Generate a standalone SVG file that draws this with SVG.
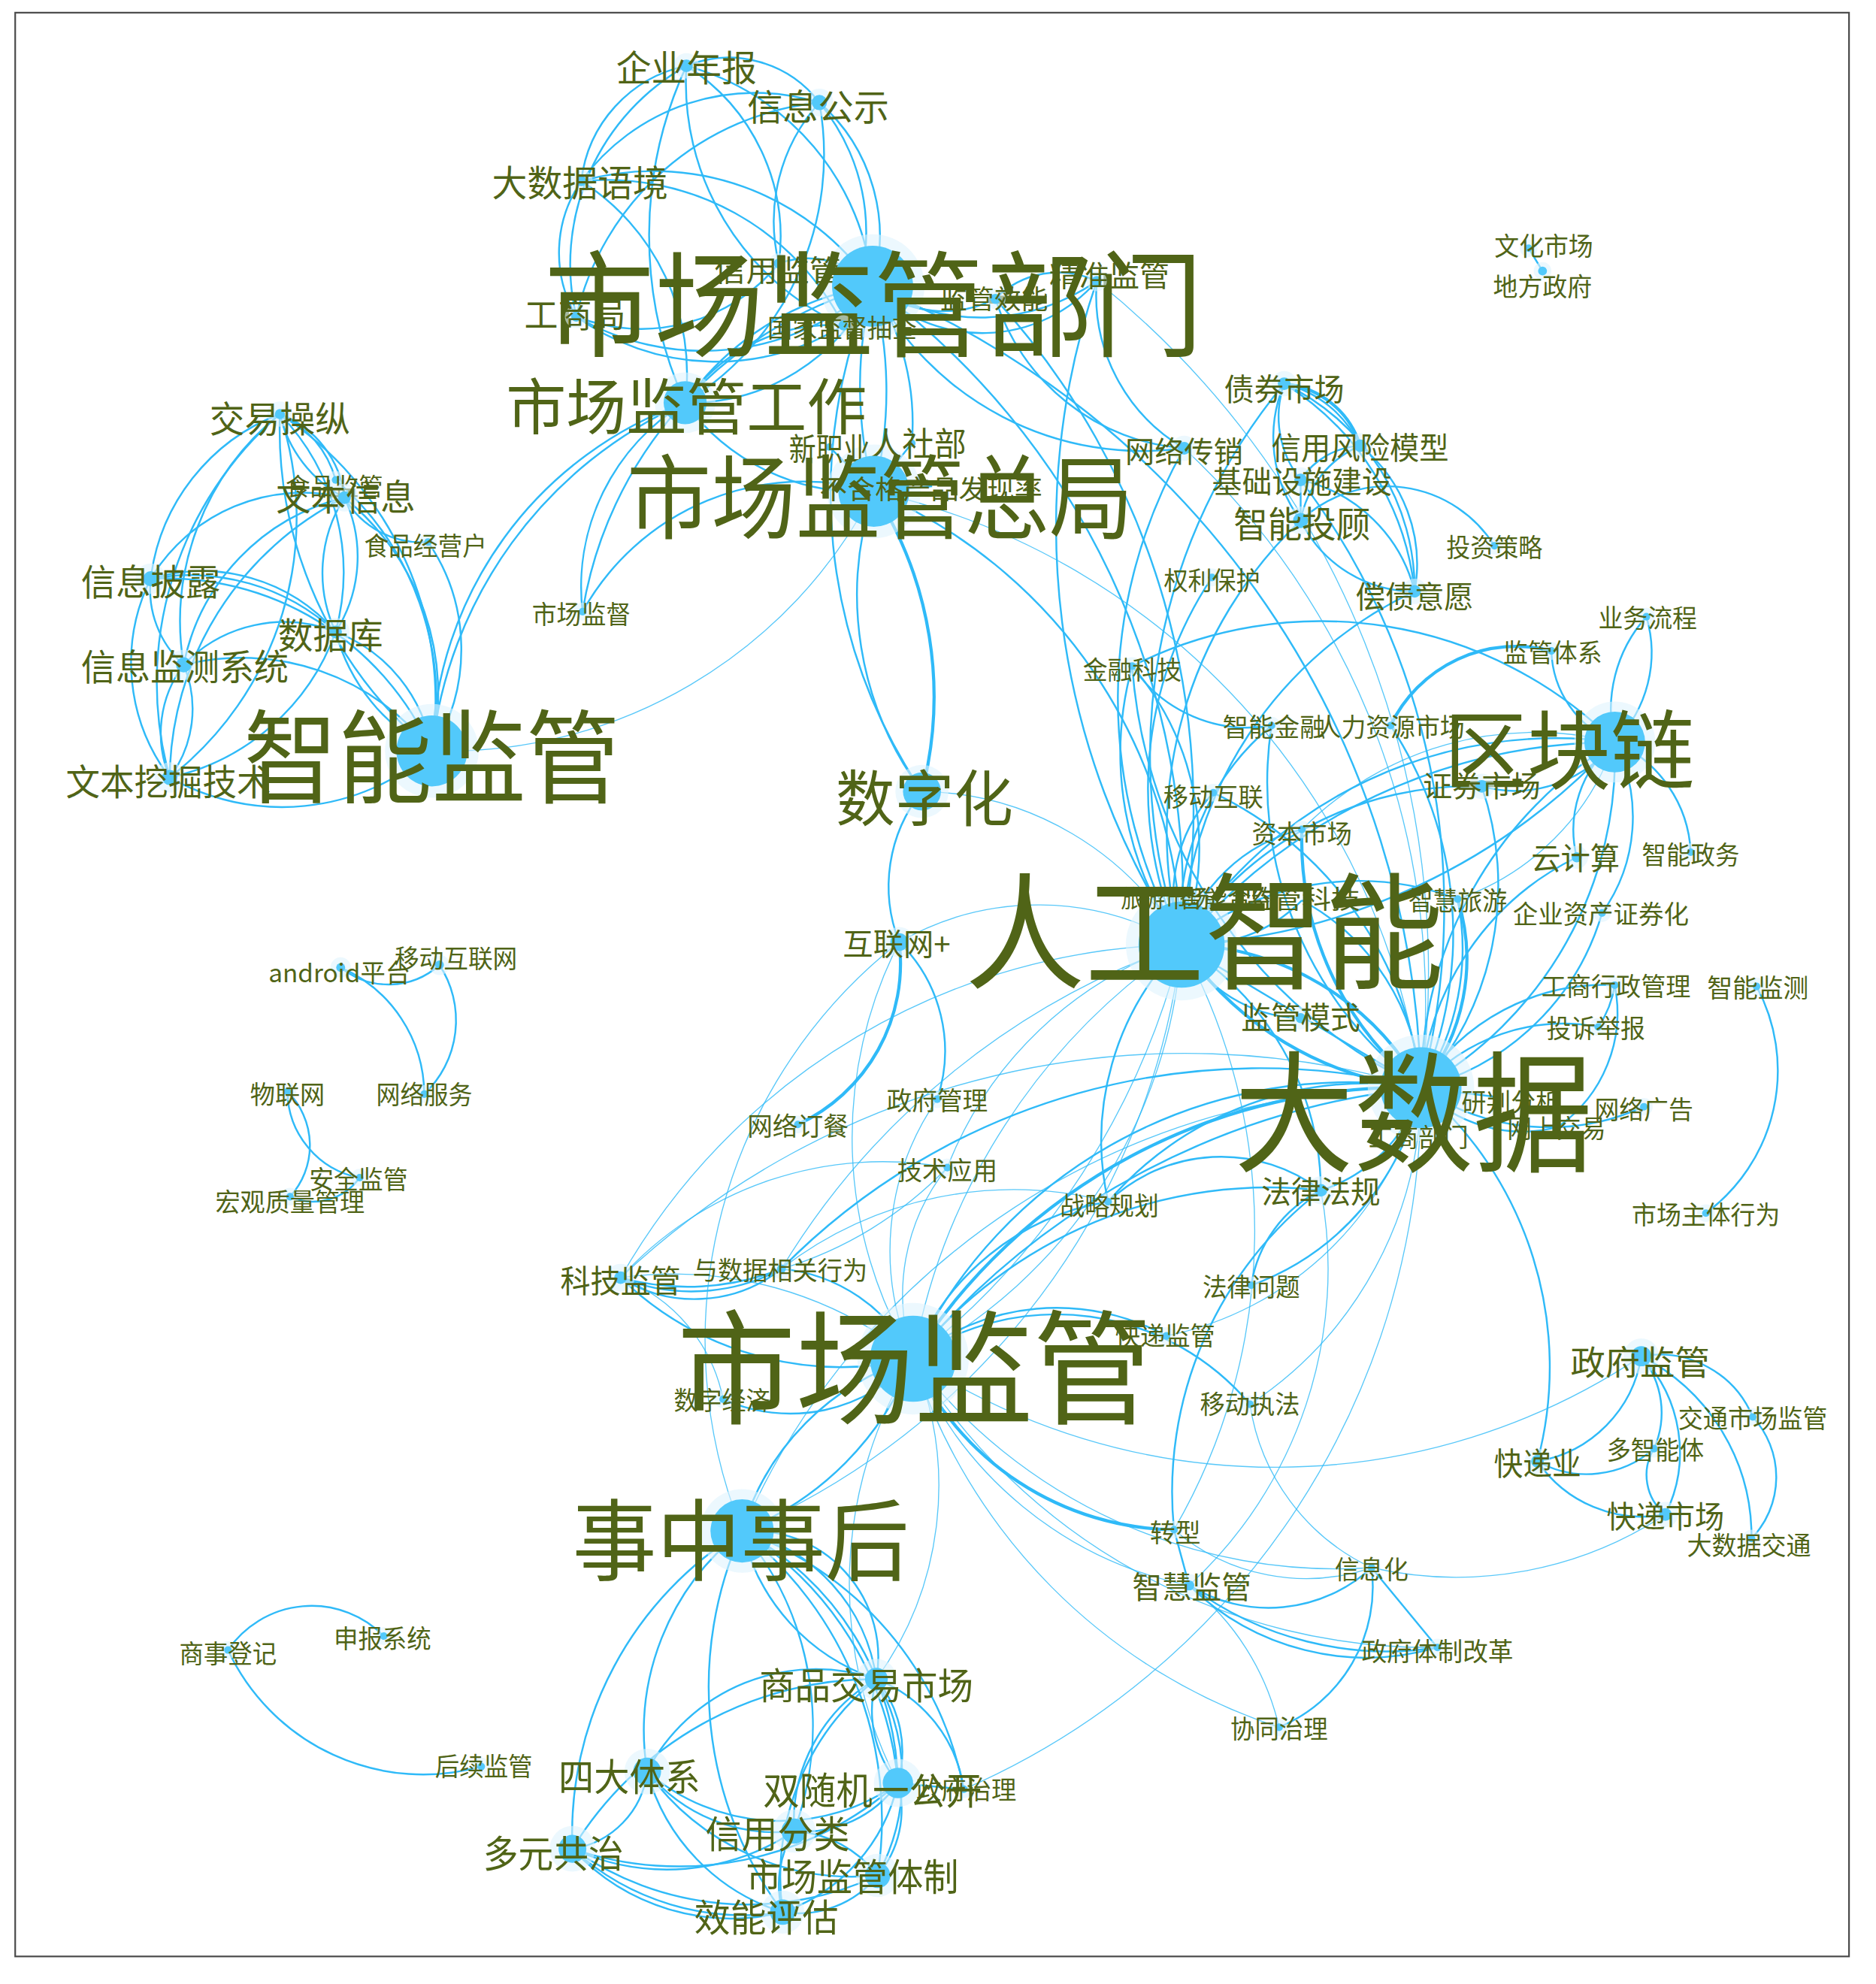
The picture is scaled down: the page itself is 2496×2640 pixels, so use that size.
<svg xmlns="http://www.w3.org/2000/svg" width="2496" height="2640" viewBox="0 0 2496 2640">
<style>
.bg{fill:#fff}
.frame{fill:none;stroke:#4a4a4a;stroke-width:1.3}
#edges path{fill:none;stroke:#2fbaf8;stroke-width:1.45}
#edges path.t{stroke-width:0.8;stroke-opacity:0.8}
#edges path.k{stroke-width:2.5}
.h{fill:#dff3fd;fill-opacity:0.6}
.n{fill:#52c9fb}
text{font-family:"Noto Sans CJK SC","Liberation Sans",sans-serif;fill:#506417;text-anchor:middle;dominant-baseline:central}
</style>
<rect class="bg" x="0" y="0" width="2496" height="2640"/>
<g transform="scale(1.685)">
<rect class="frame" x="12" y="10" width="1448" height="1535"/>
<g id="edges">
<path d="M542 52A90 90 0 0 1 647 81"/>
<path d="M647 81A170 170 0 0 0 459 143"/>
<path d="M542 52A105 105 0 0 0 459 143"/>
<path d="M542 52A180 180 0 0 0 455 250"/>
<path d="M542 52A320 320 0 0 0 541 318"/>
<path d="M542 52A200 200 0 0 1 689 226"/>
<path d="M542 52A210 210 0 0 0 666 257"/>
<path d="M542 52A160 160 0 0 1 615 208"/>
<path d="M647 81A140 140 0 0 1 689 226"/>
<path d="M647 81A230 230 0 0 1 541 318"/>
<path d="M647 81A220 220 0 0 0 455 250"/>
<path d="M647 81A160 160 0 0 1 666 257"/>
<path d="M647 81A140 140 0 0 0 615 208"/>
<path d="M459 143A210 210 0 0 1 689 226"/>
<path d="M459 143A100 100 0 0 0 455 250"/>
<path d="M459 143A180 180 0 0 1 541 318"/>
<path d="M459 143A210 210 0 0 1 666 257"/>
<path d="M455 250A200 200 0 0 0 689 226"/>
<path d="M455 250A140 140 0 0 0 615 208"/>
<path d="M455 250A190 190 0 0 0 666 257"/>
<path d="M615 208A70 70 0 0 1 689 226"/>
<path d="M689 226A160 160 0 0 0 866 222"/>
<path d="M689 226A120 120 0 0 0 866 222"/>
<path d="M689 226A90 90 0 0 0 786 236"/>
<path d="M786 236A70 70 0 0 1 866 222"/>
<path d="M689 226L666 257"/>
<path d="M689 226A160 160 0 0 1 541 318"/>
<path d="M689 226A220 220 0 0 0 541 318"/>
<path d="M689 226A320 320 0 0 1 690 388"/>
<path d="M689 226A320 320 0 0 0 690 388"/>
<path d="M689 226A240 240 0 0 0 935 354"/>
<path d="M866 222A140 140 0 0 0 935 354"/>
<path d="M786 236A170 170 0 0 0 935 354"/>
<path d="M689 226A600 600 0 0 1 933 746"/>
<path d="M866 222A600 600 0 0 0 933 746"/>
<path d="M786 236A600 600 0 0 1 933 746"/>
<path d="M689 226A700 700 0 0 1 1122 859"/>
<path class="t" d="M866 222A700 700 0 0 1 1122 859"/>
<path d="M689 226A420 420 0 0 0 728 625"/>
<path d="M689 226A200 200 0 0 1 720 350"/>
<path d="M541 318A300 300 0 0 0 341 593"/>
<path d="M541 318A340 340 0 0 0 341 593"/>
<path d="M541 318A170 170 0 0 0 460 483"/>
<path d="M689 226A320 320 0 0 0 460 483"/>
<path d="M460 483A200 200 0 0 1 690 388"/>
<path d="M541 318A170 170 0 0 0 690 388"/>
<path d="M541 318A140 140 0 0 1 666 257"/>
<path class="t" d="M341 593A380 380 0 0 0 690 388"/>
<path class="k" d="M690 388A300 300 0 0 1 728 625"/>
<path d="M690 388A260 260 0 0 0 728 625"/>
<path d="M690 388A400 400 0 0 1 933 746"/>
<path class="t" d="M690 388A560 560 0 0 1 1122 859"/>
<path d="M655 353L690 388"/>
<path d="M720 350L690 388"/>
<path d="M736 384L690 388"/>
<path d="M221 327A80 80 0 0 1 272 393"/>
<path d="M221 327A100 100 0 0 0 272 393"/>
<path d="M221 327A80 80 0 0 1 265 379"/>
<path d="M221 327A160 160 0 0 0 119 457"/>
<path d="M221 327A210 210 0 0 0 145 525"/>
<path d="M221 327A180 180 0 0 1 265 499"/>
<path d="M221 327A270 270 0 0 1 341 593"/>
<path d="M221 327A330 330 0 0 0 341 593"/>
<path d="M221 327A280 280 0 0 0 134 614"/>
<path d="M221 327A260 260 0 0 1 134 614"/>
<path d="M272 393A140 140 0 0 0 119 457"/>
<path d="M272 393A170 170 0 0 0 145 525"/>
<path d="M272 393A110 110 0 0 0 265 499"/>
<path d="M272 393A110 110 0 0 1 265 499"/>
<path d="M272 393A200 200 0 0 1 341 593"/>
<path d="M272 393A250 250 0 0 0 134 614"/>
<path d="M272 393A70 70 0 0 0 338 428"/>
<path d="M338 428A150 150 0 0 1 341 593"/>
<path d="M265 379A230 230 0 0 1 341 593"/>
<path d="M119 457A140 140 0 0 1 265 499"/>
<path d="M119 457A170 170 0 0 1 265 499"/>
<path d="M119 457A230 230 0 0 1 341 593"/>
<path d="M119 457A80 80 0 0 0 145 525"/>
<path d="M119 457A150 150 0 0 0 134 614"/>
<path d="M265 499A110 110 0 0 0 145 525"/>
<path d="M265 499A120 120 0 0 1 341 593"/>
<path d="M265 499A150 150 0 0 0 341 593"/>
<path d="M265 499A180 180 0 0 1 134 614"/>
<path d="M145 525A190 190 0 0 1 341 593"/>
<path d="M145 525A90 90 0 0 0 134 614"/>
<path d="M145 525A90 90 0 0 1 134 614"/>
<path d="M134 614A180 180 0 0 0 341 593"/>
<path class="k" d="M1014 303A70 70 0 0 1 1074 352"/>
<path d="M1014 303A90 90 0 0 1 1074 352"/>
<path d="M1014 303A80 80 0 0 0 1027 379"/>
<path d="M1014 303A110 110 0 0 0 1027 411"/>
<path d="M1014 303A180 180 0 0 1 1117 467"/>
<path d="M1014 303A220 220 0 0 1 1117 467"/>
<path d="M1074 352A60 60 0 0 0 1027 379"/>
<path d="M1074 352A80 80 0 0 0 1027 411"/>
<path d="M1074 352A120 120 0 0 1 1117 467"/>
<path d="M1027 379L1027 411"/>
<path d="M1027 379A120 120 0 0 1 1117 467"/>
<path d="M1027 411A100 100 0 0 1 1180 431"/>
<path d="M1027 411A100 100 0 0 0 1117 467"/>
<path d="M1014 303A460 460 0 0 0 933 746"/>
<path d="M1027 379A560 560 0 0 1 1122 859"/>
<path d="M1027 411A340 340 0 0 0 933 746"/>
<path d="M935 354A400 400 0 0 0 933 746"/>
<path class="t" d="M935 354A600 600 0 0 1 1122 859"/>
<path d="M957 456A300 300 0 0 0 933 746"/>
<path d="M1117 467A320 320 0 0 0 933 746"/>
<path d="M894 526A110 110 0 0 0 1004 573"/>
<path d="M894 526A330 330 0 0 1 1275 586"/>
<path d="M894 526A220 220 0 0 1 933 746"/>
<path d="M894 526A260 260 0 0 0 933 746"/>
<path d="M894 526A400 400 0 0 0 1122 859"/>
<path d="M1225 514A80 80 0 0 0 1275 586"/>
<path class="k" d="M1098 573A110 110 0 0 1 1225 514"/>
<path d="M1098 573A300 300 0 0 1 1122 859"/>
<path d="M1004 573A300 300 0 0 0 1122 859"/>
<path d="M1004 573A200 200 0 0 0 933 746"/>
<path d="M1300 487A100 100 0 0 1 1275 586"/>
<path d="M1300 487A110 110 0 0 0 1275 586"/>
<path d="M1275 586A100 100 0 0 1 1170 621"/>
<path d="M1275 586A90 90 0 0 0 1245 677"/>
<path d="M1275 586A100 100 0 0 1 1335 673"/>
<path d="M1275 586A130 130 0 0 1 1265 721"/>
<path d="M1275 586A350 350 0 0 0 933 746"/>
<path d="M1275 586A450 450 0 0 0 933 746"/>
<path d="M1275 586A500 500 0 0 1 933 746"/>
<path d="M1275 586A320 320 0 0 0 1122 859"/>
<path d="M1275 586A300 300 0 0 1 1122 859"/>
<path class="t" d="M1275 586A260 260 0 0 0 1028 655"/>
<path class="t" d="M1275 586A200 200 0 0 1 1151 710"/>
<path d="M1170 621A270 270 0 0 0 933 746"/>
<path d="M1170 621A240 240 0 0 1 1122 859"/>
<path d="M1245 677A220 220 0 0 0 1122 859"/>
<path d="M1265 721A200 200 0 0 1 1122 859"/>
<path d="M958 626A120 120 0 0 0 933 746"/>
<path d="M958 626A290 290 0 0 1 1122 859"/>
<path d="M1028 655A130 130 0 0 0 933 746"/>
<path class="k" d="M1028 655A250 250 0 0 0 1122 859"/>
<path d="M925 704L933 746"/>
<path d="M965 707L933 746"/>
<path d="M1028 711A120 120 0 0 1 933 746"/>
<path d="M1028 711A180 180 0 0 1 1122 859"/>
<path d="M1151 710A220 220 0 0 0 933 746"/>
<path class="k" d="M1151 710A160 160 0 0 1 1122 859"/>
<path d="M1151 710A200 200 0 0 1 1122 859"/>
<path class="k" d="M933 746A220 220 0 0 1 1122 859"/>
<path class="k" d="M933 746A260 260 0 0 0 1122 859"/>
<path d="M933 746L1122 859"/>
<path d="M933 746A110 110 0 0 0 1027 804"/>
<path class="t" d="M933 746A220 220 0 0 0 710 744"/>
<path class="t" d="M728 625A240 240 0 0 1 933 746"/>
<path class="t" d="M933 746A400 400 0 0 1 721 1073"/>
<path class="t" d="M933 746A500 500 0 0 0 721 1073"/>
<path class="t" d="M933 746A600 600 0 0 1 721 1073"/>
<path d="M933 746A220 220 0 0 0 875 949"/>
<path d="M933 746A230 230 0 0 1 1043 940"/>
<path class="t" d="M933 746A580 580 0 0 1 586 1209"/>
<path class="t" d="M933 746A520 520 0 0 0 490 1009"/>
<path class="t" d="M933 746A300 300 0 0 0 748 922"/>
<path class="t" d="M933 746A470 470 0 0 1 927 1208"/>
<path class="t" d="M933 746A600 600 0 0 0 617 1002"/>
<path d="M1122 859A170 170 0 0 1 1275 778"/>
<path d="M1122 859A150 150 0 0 1 1262 811"/>
<path d="M1122 859L1180 866"/>
<path d="M1122 859A110 110 0 0 0 1230 890"/>
<path d="M1122 859A180 180 0 0 0 1298 874"/>
<path d="M1122 859L1122 893"/>
<path d="M1275 778A110 110 0 0 1 1230 890"/>
<path d="M1275 778A80 80 0 0 1 1262 811"/>
<path d="M1387 779A140 140 0 0 1 1347 958"/>
<path d="M1122 859A290 290 0 0 1 1214 1154"/>
<path d="M1122 859A120 120 0 0 1 1043 940"/>
<path class="k" d="M1122 859A460 460 0 0 0 721 1073"/>
<path d="M1122 859A600 600 0 0 0 721 1073"/>
<path d="M1122 859A380 380 0 0 0 721 1073"/>
<path d="M1122 859A270 270 0 0 0 875 949"/>
<path d="M1122 859A210 210 0 0 1 988 1015"/>
<path class="t" d="M1122 859A650 650 0 0 0 490 1009"/>
<path d="M1122 859A530 530 0 0 0 617 1002"/>
<path class="t" d="M1122 859A260 260 0 0 1 921 1055"/>
<path class="t" d="M1122 859A300 300 0 0 1 987 1109"/>
<path class="t" d="M1122 859A580 580 0 0 0 586 1209"/>
<path class="t" d="M1122 859A600 600 0 0 1 761 1413"/>
<path class="k" d="M710 744A140 140 0 0 1 630 888"/>
<path d="M710 744A120 120 0 0 1 740 868"/>
<path class="t" d="M710 744A340 340 0 0 0 721 1073"/>
<path class="t" d="M710 744A400 400 0 0 0 586 1209"/>
<path d="M728 625A120 120 0 0 0 710 744"/>
<path class="t" d="M740 868A210 210 0 0 0 721 1073"/>
<path class="t" d="M748 922A160 160 0 0 0 721 1073"/>
<path class="t" d="M748 922A280 280 0 0 0 490 1009"/>
<path class="t" d="M748 922A300 300 0 0 1 617 1002"/>
<path d="M490 1009A110 110 0 0 0 617 1002"/>
<path d="M490 1009A150 150 0 0 0 617 1002"/>
<path d="M490 1009A200 200 0 0 0 617 1002"/>
<path d="M490 1009A250 250 0 0 0 721 1073"/>
<path class="t" d="M490 1009A300 300 0 0 1 721 1073"/>
<path class="t" d="M490 1009A130 130 0 0 1 571 1105"/>
<path d="M617 1002A130 130 0 0 1 721 1073"/>
<path class="t" d="M617 1002A300 300 0 0 1 875 949"/>
<path d="M571 1105A130 130 0 0 0 721 1073"/>
<path d="M875 949A130 130 0 0 1 1043 940"/>
<path d="M875 949A200 200 0 0 0 721 1073"/>
<path d="M1043 940A100 100 0 0 0 988 1015"/>
<path d="M1043 940A360 360 0 0 0 721 1073"/>
<path d="M1043 940A300 300 0 0 0 927 1208"/>
<path class="t" d="M1043 940A340 340 0 0 1 939 1252"/>
<path d="M721 1073A200 200 0 0 1 987 1109"/>
<path d="M721 1073A180 180 0 0 1 921 1055"/>
<path class="k" d="M721 1073A230 230 0 0 0 927 1208"/>
<path class="t" d="M721 1073A300 300 0 0 0 939 1252"/>
<path class="t" d="M721 1073A420 420 0 0 0 1083 1238"/>
<path class="t" d="M721 1073A520 520 0 0 0 1296 1071"/>
<path class="t" d="M721 1073A480 480 0 0 0 1135 1301"/>
<path class="t" d="M721 1073A450 450 0 0 0 1010 1364"/>
<path d="M721 1073A200 200 0 0 0 586 1209"/>
<path d="M721 1073A240 240 0 0 1 586 1209"/>
<path class="t" d="M721 1073A260 260 0 0 1 692 1326"/>
<path class="t" d="M721 1073A340 340 0 0 0 709 1408"/>
<path class="t" d="M987 1109A170 170 0 0 0 1083 1238"/>
<path class="t" d="M927 1208A160 160 0 0 0 1083 1238"/>
<path d="M927 1208L939 1252"/>
<path d="M939 1252A120 120 0 0 0 1083 1238"/>
<path d="M939 1252A200 200 0 0 0 1135 1301"/>
<path d="M939 1252A260 260 0 0 0 1135 1301"/>
<path d="M1083 1238A120 120 0 0 1 1010 1364"/>
<path d="M1083 1238L1135 1301"/>
<path class="t" d="M1083 1238A300 300 0 0 0 1315 1196"/>
<path class="t" d="M939 1252A200 200 0 0 1 1010 1364"/>
<path d="M1296 1071A100 100 0 0 1 1214 1154"/>
<path d="M1296 1071A70 70 0 0 1 1306 1144"/>
<path d="M1296 1071A110 110 0 0 1 1315 1196"/>
<path d="M1296 1071A80 80 0 0 1 1384 1119"/>
<path d="M1296 1071A160 160 0 0 1 1383 1215"/>
<path d="M1384 1119A70 70 0 0 1 1383 1215"/>
<path d="M1214 1154A80 80 0 0 0 1306 1144"/>
<path d="M1214 1154A100 100 0 0 0 1315 1196"/>
<path d="M1306 1144A40 40 0 0 0 1315 1196"/>
<path d="M180 1303A80 80 0 0 1 303 1292"/>
<path d="M180 1303A170 170 0 0 0 380 1395"/>
<path d="M586 1209A100 100 0 0 1 692 1326"/>
<path d="M586 1209A140 140 0 0 1 692 1326"/>
<path d="M586 1209A160 160 0 0 0 692 1326"/>
<path d="M586 1209A200 200 0 0 0 511 1399"/>
<path d="M586 1209A230 230 0 0 1 709 1408"/>
<path d="M586 1209A260 260 0 0 1 709 1408"/>
<path d="M586 1209A240 240 0 0 1 627 1446"/>
<path d="M586 1209A280 280 0 0 0 452 1460"/>
<path d="M586 1209A290 290 0 0 1 693 1481"/>
<path d="M586 1209A300 300 0 0 0 618 1510"/>
<path d="M586 1209A270 270 0 0 1 761 1413"/>
<path d="M511 1399A150 150 0 0 1 692 1326"/>
<path d="M692 1326A90 90 0 0 1 709 1408"/>
<path d="M692 1326A90 90 0 0 0 709 1408"/>
<path d="M692 1326A130 130 0 0 0 627 1446"/>
<path d="M692 1326A280 280 0 0 0 452 1460"/>
<path d="M692 1326A160 160 0 0 1 693 1481"/>
<path d="M692 1326A200 200 0 0 0 618 1510"/>
<path d="M692 1326A110 110 0 0 1 761 1413"/>
<path d="M511 1399A160 160 0 0 0 709 1408"/>
<path d="M511 1399A130 130 0 0 0 627 1446"/>
<path d="M511 1399A70 70 0 0 1 452 1460"/>
<path d="M511 1399A200 200 0 0 0 693 1481"/>
<path d="M511 1399A160 160 0 0 0 618 1510"/>
<path d="M709 1408A90 90 0 0 1 627 1446"/>
<path d="M709 1408A260 260 0 0 1 452 1460"/>
<path d="M709 1408A80 80 0 0 1 693 1481"/>
<path d="M709 1408A140 140 0 0 1 618 1510"/>
<path d="M709 1408L761 1413"/>
<path d="M452 1460A180 180 0 0 0 627 1446"/>
<path d="M452 1460A240 240 0 0 0 693 1481"/>
<path d="M452 1460A170 170 0 0 0 618 1510"/>
<path d="M452 1460A200 200 0 0 0 618 1510"/>
<path d="M627 1446A90 90 0 0 1 693 1481"/>
<path d="M627 1446A80 80 0 0 0 618 1510"/>
<path d="M693 1481A80 80 0 0 1 618 1510"/>
<path d="M269 764A60 60 0 0 0 347 762"/>
<path d="M269 764A110 110 0 0 1 335 864"/>
<path d="M347 762A80 80 0 0 1 335 864"/>
<path d="M227 862A70 70 0 0 0 284 930"/>
<path d="M227 862A60 60 0 0 1 229 945"/>
<path d="M284 930A45 45 0 0 1 229 945"/>
<path d="M1207 196L1218 214"/>
</g>
<g id="halos">
<circle class="h" cx="933" cy="746" r="44"/><circle class="h" cx="1122" cy="859" r="42"/><circle class="h" cx="721" cy="1073" r="44"/><circle class="h" cx="689" cy="226" r="41"/><circle class="h" cx="690" cy="388" r="37"/><circle class="h" cx="341" cy="593" r="37"/><circle class="h" cx="1275" cy="586" r="32"/><circle class="h" cx="586" cy="1209" r="33"/><circle class="h" cx="541" cy="318" r="24"/><circle class="h" cx="728" cy="625" r="21"/>
<circle class="h" cx="709" cy="1408" r="19"/><circle class="h" cx="511" cy="1399" r="18"/><circle class="h" cx="627" cy="1446" r="17"/><circle class="h" cx="452" cy="1460" r="18"/><circle class="h" cx="693" cy="1481" r="17"/><circle class="h" cx="618" cy="1510" r="17"/><circle class="h" cx="692" cy="1326" r="16"/><circle class="h" cx="1296" cy="1071" r="14"/><circle class="h" cx="710" cy="744" r="12"/>
</g>
<g id="n-qiyenianbao"><circle class="h" cx="542" cy="52" r="10"/><circle class="n" cx="542" cy="52" r="5"/><text x="542" y="52" font-size="28" textLength="111" lengthAdjust="spacingAndGlyphs">企业年报</text></g>
<g id="n-xinxigongshi"><circle class="h" cx="647" cy="81" r="11"/><circle class="n" cx="647" cy="81" r="6"/><text x="646" y="83" font-size="28" textLength="112" lengthAdjust="spacingAndGlyphs">信息公示</text></g>
<g id="n-dashujuyujing"><circle class="h" cx="459" cy="143" r="9"/><circle class="n" cx="459" cy="143" r="4"/><text x="458" y="143" font-size="28" textLength="139" lengthAdjust="spacingAndGlyphs">大数据语境</text></g>
<g id="n-xinyongjianguan"><circle class="h" cx="615" cy="208" r="8"/><circle class="n" cx="615" cy="208" r="4"/><text x="614" y="212" font-size="23" textLength="100" lengthAdjust="spacingAndGlyphs">信用监管</text></g>
<g id="n-shichangjianguanbumen"><circle class="n" cx="689" cy="226" r="32"/><text x="690" y="235" font-size="91" textLength="520" lengthAdjust="spacingAndGlyphs">市场监管部门</text></g>
<g id="n-jingzhunjianguan"><circle class="h" cx="866" cy="222" r="8"/><circle class="n" cx="866" cy="222" r="4"/><text x="876" y="216" font-size="23" textLength="95" lengthAdjust="spacingAndGlyphs">精准监管</text></g>
<g id="n-jianguanxiaoneng"><circle class="h" cx="786" cy="236" r="8"/><circle class="n" cx="786" cy="236" r="4"/><text x="785" y="235" font-size="21" textLength="85" lengthAdjust="spacingAndGlyphs">监管效能</text></g>
<g id="n-gongshangju"><circle class="h" cx="455" cy="250" r="9"/><circle class="n" cx="455" cy="250" r="4"/><text x="454" y="247" font-size="27" textLength="80" lengthAdjust="spacingAndGlyphs">工商局</text></g>
<g id="n-guojiajiandu"><circle class="h" cx="666" cy="257" r="8"/><circle class="n" cx="666" cy="257" r="4"/><text x="665" y="258" font-size="20" textLength="118" lengthAdjust="spacingAndGlyphs">国家监督抽查</text></g>
<g id="n-shichangjianguangongzuo"><circle class="n" cx="541" cy="318" r="17"/><text x="542" y="318" font-size="48" textLength="285" lengthAdjust="spacingAndGlyphs">市场监管工作</text></g>
<g id="n-xinzhiye"><circle class="n" cx="655" cy="353" r="3"/><text x="655" y="353" font-size="25" textLength="64" lengthAdjust="spacingAndGlyphs">新职业</text></g>
<g id="n-renshebu"><circle class="n" cx="720" cy="350" r="3"/><text x="725" y="349" font-size="26" textLength="76" lengthAdjust="spacingAndGlyphs">人社部</text></g>
<g id="n-shichangjianguanzongju"><circle class="n" cx="690" cy="388" r="28"/><text x="735" y="385" font-size="21" textLength="176" lengthAdjust="spacingAndGlyphs">不合格产品发现率</text><text x="695" y="388" font-size="72" textLength="400" lengthAdjust="spacingAndGlyphs">市场监管总局</text></g>
<g id="n-wenhuashichang"><circle class="h" cx="1207" cy="196" r="7"/><circle class="n" cx="1207" cy="196" r="3"/><text x="1219" y="193" font-size="20" textLength="78" lengthAdjust="spacingAndGlyphs">文化市场</text></g>
<g id="n-difangzhengfu"><circle class="h" cx="1218" cy="214" r="7"/><circle class="n" cx="1218" cy="214" r="3.5"/><text x="1218" y="225" font-size="20" textLength="78" lengthAdjust="spacingAndGlyphs">地方政府</text></g>
<g id="n-jiaoyicaozong"><circle class="h" cx="221" cy="327" r="10"/><circle class="n" cx="221" cy="327" r="4"/><text x="221" y="329" font-size="28" textLength="111" lengthAdjust="spacingAndGlyphs">交易操纵</text></g>
<g id="n-shipinjianguan"><circle class="h" cx="265" cy="379" r="7"/><circle class="n" cx="265" cy="379" r="3"/><text x="264" y="383" font-size="19" textLength="77" lengthAdjust="spacingAndGlyphs">食品监管</text></g>
<g id="n-wenbenxinxi"><circle class="h" cx="272" cy="393" r="11"/><circle class="n" cx="272" cy="393" r="5"/><text x="273" y="391" font-size="28" textLength="110" lengthAdjust="spacingAndGlyphs">文本信息</text></g>
<g id="n-shipinjingyinghu"><circle class="h" cx="338" cy="428" r="7"/><circle class="n" cx="338" cy="428" r="3"/><text x="336" y="430" font-size="20" textLength="97" lengthAdjust="spacingAndGlyphs">食品经营户</text></g>
<g id="n-xinxipilu"><circle class="h" cx="119" cy="457" r="12"/><circle class="n" cx="119" cy="457" r="6"/><text x="119" y="458" font-size="28" textLength="110" lengthAdjust="spacingAndGlyphs">信息披露</text></g>
<g id="n-shujuku"><circle class="h" cx="265" cy="499" r="11"/><circle class="n" cx="265" cy="499" r="5"/><text x="261" y="500" font-size="28" textLength="83" lengthAdjust="spacingAndGlyphs">数据库</text></g>
<g id="n-shichangjiandu"><circle class="h" cx="460" cy="483" r="7"/><circle class="n" cx="460" cy="483" r="3"/><text x="459" y="484" font-size="20" textLength="78" lengthAdjust="spacingAndGlyphs">市场监督</text></g>
<g id="n-xinxijiance"><circle class="h" cx="145" cy="525" r="12"/><circle class="n" cx="145" cy="525" r="6"/><text x="146" y="525" font-size="28" textLength="164" lengthAdjust="spacingAndGlyphs">信息监测系统</text></g>
<g id="n-zhinengjianguan"><circle class="n" cx="341" cy="593" r="28"/><text x="341" y="593" font-size="80" textLength="297" lengthAdjust="spacingAndGlyphs">智能监管</text></g>
<g id="n-wenbenwajue"><circle class="h" cx="134" cy="614" r="12"/><circle class="n" cx="134" cy="614" r="6"/><text x="133" y="616" font-size="28" textLength="162" lengthAdjust="spacingAndGlyphs">文本挖掘技术</text></g>
<g id="n-zhaiquanshichang"><circle class="h" cx="1014" cy="303" r="10"/><circle class="n" cx="1014" cy="303" r="5"/><text x="1014" y="306" font-size="24" textLength="95" lengthAdjust="spacingAndGlyphs">债券市场</text></g>
<g id="n-wangluochuanxiao"><circle class="h" cx="935" cy="354" r="10"/><circle class="n" cx="935" cy="354" r="5"/><text x="935" y="355" font-size="23" textLength="93" lengthAdjust="spacingAndGlyphs">网络传销</text></g>
<g id="n-xinyongfengxian"><circle class="h" cx="1074" cy="352" r="10"/><circle class="n" cx="1074" cy="352" r="5"/><text x="1074" y="352" font-size="24" textLength="140" lengthAdjust="spacingAndGlyphs">信用风险模型</text></g>
<g id="n-jichusheshi"><circle class="h" cx="1027" cy="379" r="10"/><circle class="n" cx="1027" cy="379" r="5"/><text x="1028" y="379" font-size="24" textLength="142" lengthAdjust="spacingAndGlyphs">基础设施建设</text></g>
<g id="n-zhinengtougu"><circle class="h" cx="1027" cy="411" r="11"/><circle class="n" cx="1027" cy="411" r="6"/><text x="1028" y="412" font-size="28" textLength="108" lengthAdjust="spacingAndGlyphs">智能投顾</text></g>
<g id="n-touzicelve"><circle class="h" cx="1180" cy="431" r="7"/><circle class="n" cx="1180" cy="431" r="3"/><text x="1180" y="431" font-size="20" textLength="76" lengthAdjust="spacingAndGlyphs">投资策略</text></g>
<g id="n-quanlibaohu"><circle class="h" cx="957" cy="456" r="7"/><circle class="n" cx="957" cy="456" r="3"/><text x="957" y="457" font-size="20" textLength="76" lengthAdjust="spacingAndGlyphs">权利保护</text></g>
<g id="n-changzhaiyiyuan"><circle class="h" cx="1117" cy="467" r="10"/><circle class="n" cx="1117" cy="467" r="5"/><text x="1117" y="470" font-size="24" textLength="93" lengthAdjust="spacingAndGlyphs">偿债意愿</text></g>
<g id="n-yewuliucheng"><circle class="h" cx="1300" cy="487" r="7"/><circle class="n" cx="1300" cy="487" r="3"/><text x="1301" y="487" font-size="20" textLength="78" lengthAdjust="spacingAndGlyphs">业务流程</text></g>
<g id="n-jianguantixi"><circle class="h" cx="1225" cy="514" r="7"/><circle class="n" cx="1225" cy="514" r="3"/><text x="1226" y="514" font-size="20" textLength="78" lengthAdjust="spacingAndGlyphs">监管体系</text></g>
<g id="n-jinrongkeji"><circle class="h" cx="894" cy="526" r="7"/><circle class="n" cx="894" cy="526" r="3"/><text x="894" y="528" font-size="20" textLength="78" lengthAdjust="spacingAndGlyphs">金融科技</text></g>
<g id="n-zhinengjinrong"><circle class="h" cx="1004" cy="573" r="7"/><circle class="n" cx="1004" cy="573" r="3"/><text x="1006" y="573" font-size="20" textLength="81" lengthAdjust="spacingAndGlyphs">智能金融</text></g>
<g id="n-renliziyuan"><circle class="h" cx="1098" cy="573" r="7"/><circle class="n" cx="1098" cy="573" r="3"/><text x="1098" y="573" font-size="20" textLength="117" lengthAdjust="spacingAndGlyphs">人力资源市场</text></g>
<g id="n-qukuailian"><circle class="n" cx="1275" cy="586" r="24"/><text x="1239" y="588" font-size="68" textLength="198" lengthAdjust="spacingAndGlyphs">区块链</text></g>
<g id="n-zhengquanshichang"><circle class="h" cx="1170" cy="621" r="10"/><circle class="n" cx="1170" cy="621" r="5"/><text x="1170" y="619" font-size="23" textLength="93" lengthAdjust="spacingAndGlyphs">证券市场</text></g>
<g id="n-shuzihua"><circle class="n" cx="728" cy="625" r="15"/><text x="730" y="627" font-size="48" textLength="140" lengthAdjust="spacingAndGlyphs">数字化</text></g>
<g id="n-yidonghulian"><circle class="h" cx="958" cy="626" r="7"/><circle class="n" cx="958" cy="626" r="3"/><text x="958" y="628" font-size="20" textLength="79" lengthAdjust="spacingAndGlyphs">移动互联</text></g>
<g id="n-zibenshichang"><circle class="h" cx="1028" cy="655" r="7"/><circle class="n" cx="1028" cy="655" r="3"/><text x="1028" y="657" font-size="20" textLength="79" lengthAdjust="spacingAndGlyphs">资本市场</text></g>
<g id="n-yunjisuan"><circle class="h" cx="1245" cy="677" r="9"/><circle class="n" cx="1245" cy="677" r="4"/><text x="1244" y="676" font-size="24" textLength="70" lengthAdjust="spacingAndGlyphs">云计算</text></g>
<g id="n-zhinengzhengwu"><circle class="h" cx="1335" cy="673" r="7"/><circle class="n" cx="1335" cy="673" r="3"/><text x="1335" y="674" font-size="20" textLength="77" lengthAdjust="spacingAndGlyphs">智能政务</text></g>
<g id="n-rengongzhineng"><circle class="n" cx="933" cy="746" r="34"/><text x="920" y="708" font-size="19" textLength="70" lengthAdjust="spacingAndGlyphs">旅游市场</text><text x="969" y="708" font-size="19" textLength="76" lengthAdjust="spacingAndGlyphs">智能合约</text><text x="1028" y="709" font-size="20" textLength="92" lengthAdjust="spacingAndGlyphs">监管科技</text><text x="951" y="730" font-size="100" textLength="378" lengthAdjust="spacingAndGlyphs">人工智能</text></g>
<g id="n-zhihuilvyou"><circle class="h" cx="1151" cy="710" r="7"/><circle class="n" cx="1151" cy="710" r="3"/><text x="1151" y="710" font-size="20" textLength="78" lengthAdjust="spacingAndGlyphs">智慧旅游</text></g>
<g id="n-qiyezichan"><circle class="h" cx="1265" cy="721" r="7"/><circle class="n" cx="1265" cy="721" r="3"/><text x="1264" y="721" font-size="20" textLength="139" lengthAdjust="spacingAndGlyphs">企业资产证券化</text></g>
<g id="n-hulianwang"><circle class="n" cx="710" cy="744" r="7"/><text x="708" y="744" font-size="24" textLength="85" lengthAdjust="spacingAndGlyphs">互联网+</text></g>
<g id="n-android"><circle class="h" cx="269" cy="764" r="8"/><circle class="n" cx="269" cy="764" r="3.5"/><text x="268" y="767" font-size="20" textLength="112" lengthAdjust="spacingAndGlyphs">android平台</text></g>
<g id="n-yidonghulianwang"><circle class="h" cx="347" cy="762" r="8"/><circle class="n" cx="347" cy="762" r="3.5"/><text x="360" y="756" font-size="20" textLength="97" lengthAdjust="spacingAndGlyphs">移动互联网</text></g>
<g id="n-gongshangxingzheng"><circle class="h" cx="1275" cy="778" r="7"/><circle class="n" cx="1275" cy="778" r="3"/><text x="1276" y="778" font-size="20" textLength="118" lengthAdjust="spacingAndGlyphs">工商行政管理</text></g>
<g id="n-zhinengjiance"><circle class="h" cx="1387" cy="779" r="7"/><circle class="n" cx="1387" cy="779" r="3"/><text x="1388" y="779" font-size="20" textLength="80" lengthAdjust="spacingAndGlyphs">智能监测</text></g>
<g id="n-jianguanmoshi"><circle class="h" cx="1027" cy="804" r="9"/><circle class="n" cx="1027" cy="804" r="4"/><text x="1027" y="802" font-size="24" textLength="94" lengthAdjust="spacingAndGlyphs">监管模式</text></g>
<g id="n-tousujubao"><circle class="h" cx="1262" cy="811" r="7"/><circle class="n" cx="1262" cy="811" r="3"/><text x="1260" y="811" font-size="20" textLength="78" lengthAdjust="spacingAndGlyphs">投诉举报</text></g>
<g id="n-dashuju"><circle class="n" cx="1122" cy="859" r="32"/><text x="1193" y="869" font-size="20" textLength="78" lengthAdjust="spacingAndGlyphs">研判分析</text><text x="1229" y="890" font-size="20" textLength="78" lengthAdjust="spacingAndGlyphs">网上交易</text><text x="1120" y="897" font-size="20" textLength="79" lengthAdjust="spacingAndGlyphs">工商部门</text><text x="1116" y="872" font-size="104" textLength="283" lengthAdjust="spacingAndGlyphs">大数据</text></g>
<g id="n-wangluoguanggao"><circle class="h" cx="1298" cy="874" r="7"/><circle class="n" cx="1298" cy="874" r="3"/><text x="1298" y="875" font-size="20" textLength="78" lengthAdjust="spacingAndGlyphs">网络广告</text></g>
<g id="n-wulianwang"><circle class="h" cx="227" cy="862" r="7"/><circle class="n" cx="227" cy="862" r="3"/><text x="227" y="863" font-size="20" textLength="59" lengthAdjust="spacingAndGlyphs">物联网</text></g>
<g id="n-wangluofuwu"><circle class="h" cx="335" cy="864" r="7"/><circle class="n" cx="335" cy="864" r="3"/><text x="335" y="863" font-size="20" textLength="76" lengthAdjust="spacingAndGlyphs">网络服务</text></g>
<g id="n-zhengfuguanli"><circle class="h" cx="740" cy="868" r="7"/><circle class="n" cx="740" cy="868" r="3"/><text x="740" y="868" font-size="20" textLength="80" lengthAdjust="spacingAndGlyphs">政府管理</text></g>
<g id="n-wangluodingcan"><circle class="h" cx="630" cy="888" r="7"/><circle class="n" cx="630" cy="888" r="3"/><text x="630" y="888" font-size="20" textLength="80" lengthAdjust="spacingAndGlyphs">网络订餐</text></g>
<g id="n-jishuyingyong"><circle class="h" cx="748" cy="922" r="7"/><circle class="n" cx="748" cy="922" r="3"/><text x="748" y="923" font-size="20" textLength="79" lengthAdjust="spacingAndGlyphs">技术应用</text></g>
<g id="n-anquanjianguan"><circle class="h" cx="284" cy="930" r="7"/><circle class="n" cx="284" cy="930" r="3"/><text x="283" y="930" font-size="20" textLength="78" lengthAdjust="spacingAndGlyphs">安全监管</text></g>
<g id="n-hongguanzhiliang"><circle class="h" cx="229" cy="945" r="7"/><circle class="n" cx="229" cy="945" r="3"/><text x="229" y="948" font-size="20" textLength="118" lengthAdjust="spacingAndGlyphs">宏观质量管理</text></g>
<g id="n-zhanlueguihua"><circle class="h" cx="875" cy="949" r="7"/><circle class="n" cx="875" cy="949" r="3"/><text x="876" y="951" font-size="20" textLength="78" lengthAdjust="spacingAndGlyphs">战略规划</text></g>
<g id="n-falvfagui"><circle class="h" cx="1043" cy="940" r="11"/><circle class="n" cx="1043" cy="940" r="5"/><text x="1043" y="940" font-size="24" textLength="94" lengthAdjust="spacingAndGlyphs">法律法规</text></g>
<g id="n-shichangzhuti"><circle class="h" cx="1347" cy="958" r="7"/><circle class="n" cx="1347" cy="958" r="3"/><text x="1347" y="958" font-size="20" textLength="117" lengthAdjust="spacingAndGlyphs">市场主体行为</text></g>
<g id="n-yushujuxiangguan"><circle class="h" cx="617" cy="1002" r="8"/><circle class="n" cx="617" cy="1002" r="3.5"/><text x="616" y="1002" font-size="20" textLength="138" lengthAdjust="spacingAndGlyphs">与数据相关行为</text></g>
<g id="n-kejijianguan"><circle class="h" cx="490" cy="1009" r="11"/><circle class="n" cx="490" cy="1009" r="5"/><text x="490" y="1010" font-size="25" textLength="95" lengthAdjust="spacingAndGlyphs">科技监管</text></g>
<g id="n-falvwenti"><circle class="h" cx="988" cy="1015" r="7"/><circle class="n" cx="988" cy="1015" r="3"/><text x="988" y="1015" font-size="20" textLength="77" lengthAdjust="spacingAndGlyphs">法律问题</text></g>
<g id="n-kuaidijianguan"><circle class="h" cx="921" cy="1055" r="7"/><circle class="n" cx="921" cy="1055" r="3"/><text x="920" y="1054" font-size="20" textLength="79" lengthAdjust="spacingAndGlyphs">快递监管</text></g>
<g id="n-shichangjianguan"><circle class="n" cx="721" cy="1073" r="34"/><text x="722" y="1074" font-size="98" textLength="375" lengthAdjust="spacingAndGlyphs">市场监管</text></g>
<g id="n-zhengfujianguan"><circle class="n" cx="1296" cy="1071" r="8"/><text x="1295" y="1074" font-size="27" textLength="110" lengthAdjust="spacingAndGlyphs">政府监管</text></g>
<g id="n-shuzijingji"><circle class="h" cx="571" cy="1105" r="7"/><circle class="n" cx="571" cy="1105" r="3"/><text x="570" y="1105" font-size="20" textLength="76" lengthAdjust="spacingAndGlyphs">数字经济</text></g>
<g id="n-yidongzhifa"><circle class="h" cx="987" cy="1109" r="7"/><circle class="n" cx="987" cy="1109" r="3"/><text x="987" y="1108" font-size="20" textLength="79" lengthAdjust="spacingAndGlyphs">移动执法</text></g>
<g id="n-jiaotongshichang"><circle class="h" cx="1384" cy="1119" r="7"/><circle class="n" cx="1384" cy="1119" r="3"/><text x="1384" y="1119" font-size="20" textLength="118" lengthAdjust="spacingAndGlyphs">交通市场监管</text></g>
<g id="n-duozhinengti"><circle class="h" cx="1306" cy="1144" r="7"/><circle class="n" cx="1306" cy="1144" r="3"/><text x="1307" y="1144" font-size="20" textLength="77" lengthAdjust="spacingAndGlyphs">多智能体</text></g>
<g id="n-kuaidiye"><circle class="h" cx="1214" cy="1154" r="10"/><circle class="n" cx="1214" cy="1154" r="5"/><text x="1214" y="1154" font-size="25" textLength="69" lengthAdjust="spacingAndGlyphs">快递业</text></g>
<g id="n-kuaidishichang"><circle class="h" cx="1315" cy="1196" r="10"/><circle class="n" cx="1315" cy="1196" r="5"/><text x="1315" y="1196" font-size="24" textLength="93" lengthAdjust="spacingAndGlyphs">快递市场</text></g>
<g id="n-dashujujiaotong"><circle class="h" cx="1383" cy="1215" r="7"/><circle class="n" cx="1383" cy="1215" r="3"/><text x="1381" y="1219" font-size="20" textLength="98" lengthAdjust="spacingAndGlyphs">大数据交通</text></g>
<g id="n-shizhongshihou"><circle class="n" cx="586" cy="1209" r="25"/><text x="585" y="1212" font-size="70" textLength="266" lengthAdjust="spacingAndGlyphs">事中事后</text></g>
<g id="n-zhuanxing"><circle class="h" cx="927" cy="1208" r="7"/><circle class="n" cx="927" cy="1208" r="3"/><text x="928" y="1209" font-size="20" textLength="40" lengthAdjust="spacingAndGlyphs">转型</text></g>
<g id="n-xinxihua"><circle class="h" cx="1083" cy="1238" r="7"/><circle class="n" cx="1083" cy="1238" r="3"/><text x="1083" y="1238" font-size="20" textLength="58" lengthAdjust="spacingAndGlyphs">信息化</text></g>
<g id="n-zhihuijianguan"><circle class="h" cx="939" cy="1252" r="9"/><circle class="n" cx="939" cy="1252" r="4"/><text x="941" y="1252" font-size="24" textLength="94" lengthAdjust="spacingAndGlyphs">智慧监管</text></g>
<g id="n-shangshidengji"><circle class="h" cx="180" cy="1303" r="7"/><circle class="n" cx="180" cy="1303" r="3"/><text x="180" y="1305" font-size="20" textLength="77" lengthAdjust="spacingAndGlyphs">商事登记</text></g>
<g id="n-shenbaoxitong"><circle class="h" cx="303" cy="1292" r="7"/><circle class="n" cx="303" cy="1292" r="3"/><text x="302" y="1293" font-size="20" textLength="77" lengthAdjust="spacingAndGlyphs">申报系统</text></g>
<g id="n-zhengfutizhi"><circle class="h" cx="1135" cy="1301" r="7"/><circle class="n" cx="1135" cy="1301" r="3"/><text x="1135" y="1303" font-size="20" textLength="120" lengthAdjust="spacingAndGlyphs">政府体制改革</text></g>
<g id="n-shangpinjiaoyi"><circle class="n" cx="692" cy="1326" r="9"/><text x="684" y="1329" font-size="29" textLength="169" lengthAdjust="spacingAndGlyphs">商品交易市场</text></g>
<g id="n-xietongzhili"><circle class="h" cx="1010" cy="1364" r="7"/><circle class="n" cx="1010" cy="1364" r="3"/><text x="1010" y="1364" font-size="20" textLength="77" lengthAdjust="spacingAndGlyphs">协同治理</text></g>
<g id="n-houxujianguan"><circle class="h" cx="380" cy="1395" r="7"/><circle class="n" cx="380" cy="1395" r="3"/><text x="382" y="1394" font-size="20" textLength="77" lengthAdjust="spacingAndGlyphs">后续监管</text></g>
<g id="n-sidatixi"><circle class="n" cx="511" cy="1399" r="11"/><text x="497" y="1401" font-size="30" textLength="112" lengthAdjust="spacingAndGlyphs">四大体系</text></g>
<g id="n-zhengfuzhili"><circle class="h" cx="761" cy="1413" r="7"/><circle class="n" cx="761" cy="1413" r="3"/><text x="763" y="1412" font-size="20" textLength="79" lengthAdjust="spacingAndGlyphs">政府治理</text></g>
<g id="n-shuangsuiji"><circle class="n" cx="709" cy="1408" r="12"/><text x="689" y="1412" font-size="30" textLength="173" lengthAdjust="spacingAndGlyphs">双随机一公开</text></g>
<g id="n-xinyongfenlei"><circle class="n" cx="627" cy="1446" r="10"/><text x="614" y="1446" font-size="30" textLength="114" lengthAdjust="spacingAndGlyphs">信用分类</text></g>
<g id="n-duoyuangongzhi"><circle class="n" cx="452" cy="1460" r="11"/><text x="437" y="1462" font-size="30" textLength="111" lengthAdjust="spacingAndGlyphs">多元共治</text></g>
<g id="n-shichangjianguantizhi"><circle class="n" cx="693" cy="1481" r="10"/><text x="673" y="1480" font-size="30" textLength="168" lengthAdjust="spacingAndGlyphs">市场监管体制</text></g>
<g id="n-xiaonengpinggu"><circle class="n" cx="618" cy="1510" r="10"/><text x="605" y="1512" font-size="30" textLength="114" lengthAdjust="spacingAndGlyphs">效能评估</text></g>
</g>
</svg>
